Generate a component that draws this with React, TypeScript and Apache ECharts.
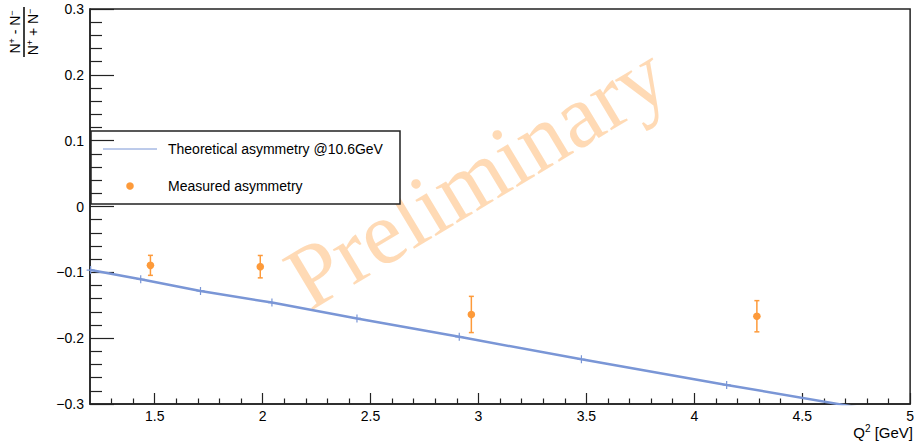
import React, { useEffect, useRef } from "react";
import * as echarts from "echarts";

// Theoretical asymmetry @10.6GeV (graph points)
const theoryQ2 = [1.203, 1.435, 1.712, 2.043, 2.437, 2.911, 3.477, 4.15, 4.95];
const theoryA = [-0.0965, -0.1106, -0.1283, -0.1459, -0.170, -0.198, -0.232, -0.271, -0.316];

// Measured asymmetry
const measQ2 = [1.48, 1.989, 2.967, 4.29];
const measA = [-0.0894, -0.0914, -0.164, -0.1667];
const measErr = [0.0152, 0.017, 0.0275, 0.0237];

// Axis ticks
const xMajorTicks = [1.5, 2, 2.5, 3, 3.5, 4, 4.5, 5];
const xMinorTicks = [1.3, 1.4, 1.6, 1.7, 1.8, 1.9, 2.1, 2.2, 2.3, 2.4, 2.6, 2.7, 2.8, 2.9, 3.1, 3.2, 3.3, 3.4, 3.6, 3.7, 3.8, 3.9, 4.1, 4.2, 4.3, 4.4, 4.6, 4.7, 4.8, 4.9];

const legendNames = ["Theoretical asymmetry @10.6GeV", "Measured asymmetry"];

const BLUE = "#7a96d6";
const ORANGE = "#fd9a3a";
const FONT = "'Liberation Sans', Arial, Helvetica, sans-serif";
const AXIS = "#222";

export default function App() {
  const ref = useRef<HTMLDivElement>(null);
  useEffect(() => {
    if (!ref.current) return;
    const chart = echarts.init(ref.current, null, { renderer: "svg" });
    const fmtY = (v: number) => {
      const r = Math.round(v * 10) / 10;
      if (r === 0) return "0";
      return String(r).replace("-", "\u2212");
    };
    const option: any = {
      animation: false,
      backgroundColor: "#fff",
      grid: {
        left: 90,
        right: 4,
        top: 9,
        bottom: 43,
        show: true,
        borderColor: AXIS,
        borderWidth: 1.5,
        backgroundColor: "transparent",
      },
      xAxis: [
        {
          type: "value",
          min: 1.2,
          max: 5,
          position: "bottom",
          axisLine: { show: true, onZero: false, lineStyle: { color: AXIS, width: 1.5 } },
          axisTick: { show: true, inside: true, length: 11, customValues: xMajorTicks, lineStyle: { color: AXIS, width: 1.2 } },
          axisLabel: {
            customValues: xMajorTicks,
            color: "#000",
            fontSize: 14,
            fontFamily: FONT,
            margin: 5,
            formatter: (v: number) => String(Math.round(v * 10) / 10),
          },
          splitLine: { show: false },
        },
        {
          type: "value",
          min: 1.2,
          max: 5,
          position: "bottom",
          axisLine: { show: false, onZero: false },
          axisTick: { show: true, inside: true, length: 5.5, customValues: xMinorTicks, lineStyle: { color: AXIS, width: 1.2 } },
          axisLabel: { show: false },
          splitLine: { show: false },
        },
      ],
      yAxis: {
        type: "value",
        min: -0.3,
        max: 0.3,
        interval: 0.1,
        axisLine: { show: true, onZero: false, lineStyle: { color: AXIS, width: 1.5 } },
        axisTick: { show: true, inside: true, length: 24, lineStyle: { color: AXIS, width: 1.2 } },
        minorTick: { show: true, splitNumber: 5, length: 12, lineStyle: { color: AXIS, width: 1.2 } },
        axisLabel: { color: "#000", fontSize: 14, fontFamily: FONT, margin: 6, formatter: fmtY },
        splitLine: { show: false },
        minorSplitLine: { show: false },
      },
      series: [
        {
          name: legendNames[0],
          type: "line",
          xAxisIndex: 0,
          yAxisIndex: 0,
          data: theoryQ2.map((x, i) => [x, theoryA[i]]),
          clip: true,
          lineStyle: { color: BLUE, width: 2.5 },
          symbol: "path://M5,0L5,10M0,5L10,5",
          symbolSize: 8,
          showSymbol: true,
          itemStyle: { color: BLUE, borderColor: BLUE, borderWidth: 1.2 },
          z: 3,
        },
        {
          name: legendNames[1],
          type: "custom",
          xAxisIndex: 0,
          yAxisIndex: 0,
          data: measQ2.map((x, i) => [x, measA[i], measErr[i]]),
          encode: { x: 0, y: 1 },
          renderItem: (params: any, api: any) => {
            const x = api.value(0);
            const y = api.value(1);
            const e = api.value(2);
            const p = api.coord([x, y]);
            const t = api.coord([x, y + e]);
            const b = api.coord([x, y - e]);
            const ls = { stroke: ORANGE, lineWidth: 1.5 };
            return {
              type: "group",
              children: [
                { type: "line", shape: { x1: p[0], y1: t[1], x2: p[0], y2: b[1] }, style: ls },
                { type: "line", shape: { x1: p[0] - 2.5, y1: t[1], x2: p[0] + 2.5, y2: t[1] }, style: ls },
                { type: "line", shape: { x1: p[0] - 2.5, y1: b[1], x2: p[0] + 2.5, y2: b[1] }, style: ls },
                { type: "circle", shape: { cx: p[0], cy: p[1], r: 3.8 }, style: { fill: ORANGE } },
              ],
            };
          },
          z: 4,
        },
      ],
      graphic: [
        // Watermark
        {
          type: "text",
          x: 476,
          y: 176,
          rotation: (31 * Math.PI) / 180,
          z: 0,
          style: {
            text: "Preliminary",
            font: "90px 'Liberation Serif', 'Times New Roman', serif",
            fill: "#ffd3a8",
            opacity: 0.85,
            textAlign: "center",
            textVerticalAlign: "middle",
          },
        },
        // Legend box
        {
          type: "group",
          z: 10,
          children: [
            {
              type: "rect",
              shape: { x: 91, y: 131, width: 309, height: 73 },
              style: { fill: "#fff", stroke: AXIS, lineWidth: 1.5 },
            },
            {
              type: "line",
              shape: { x1: 103, y1: 149, x2: 157, y2: 149 },
              style: { stroke: BLUE, lineWidth: 1 },
            },
            {
              type: "circle",
              shape: { cx: 130, cy: 186, r: 3.8 },
              style: { fill: ORANGE },
            },
            {
              type: "text",
              x: 168,
              y: 149,
              style: { text: legendNames[0], font: `14px ${FONT}`, fill: "#000", textAlign: "left", textVerticalAlign: "middle" },
            },
            {
              type: "text",
              x: 168,
              y: 186,
              style: { text: legendNames[1], font: `14px ${FONT}`, fill: "#000", textAlign: "left", textVerticalAlign: "middle" },
            },
          ],
        },
        // X axis title
        {
          type: "text",
          x: 913,
          y: 432,
          style: {
            text: "Q{sp|2} [GeV]",
            fontSize: 15,
            fontFamily: FONT,
            fill: "#000",
            textAlign: "right",
            textVerticalAlign: "middle",
            lineHeight: 17,
            rich: { sp: { fontSize: 10, fontFamily: FONT, verticalAlign: "top", lineHeight: 17 } },
          },
        },
        // Y axis title (fraction)
        {
          type: "group",
          x: 24,
          y: 32,
          rotation: Math.PI / 2,
          children: [
            {
              type: "text",
              x: 0,
              y: -1,
              style: {
                text: "N{sp|+} - N{sp|\u2212}",
                fontSize: 14,
                fontFamily: FONT,
                fill: "#000",
                textAlign: "center",
                textVerticalAlign: "bottom",
                lineHeight: 16,
                rich: { sp: { fontSize: 9, fontFamily: FONT, verticalAlign: "top", lineHeight: 16 } },
              },
            },
            {
              type: "line",
              shape: { x1: -25, y1: 0, x2: 25, y2: 0 },
              style: { stroke: "#000", lineWidth: 1.5 },
            },
            {
              type: "text",
              x: 0,
              y: 1,
              style: {
                text: "N{sp|+} + N{sp|\u2212}",
                fontSize: 14,
                fontFamily: FONT,
                fill: "#000",
                textAlign: "center",
                textVerticalAlign: "top",
                lineHeight: 16,
                rich: { sp: { fontSize: 9, fontFamily: FONT, verticalAlign: "top", lineHeight: 16 } },
              },
            },
          ],
        },
      ],
    };
    chart.setOption(option);
    return () => chart.dispose();
  }, []);
  return <div ref={ref} style={{ width: 917, height: 447, position: "absolute", left: 0, top: 0 }} />;
}
